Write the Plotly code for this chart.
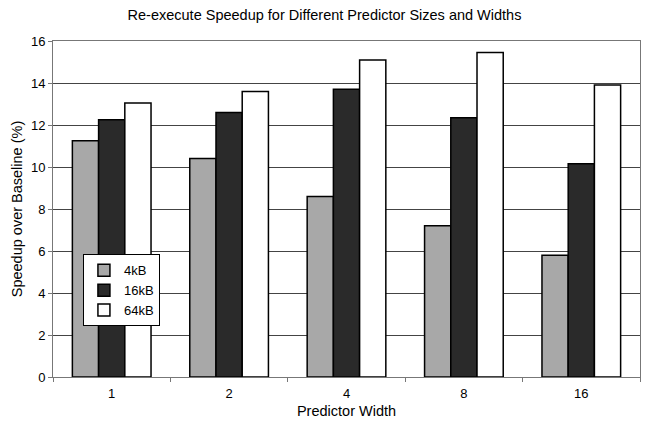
import plotly.graph_objects as go

categories = ["1", "2", "4", "8", "16"]
series_names = ["4kB", "16kB", "64kB"]
vals_4kb = [11.25, 10.4, 8.6, 7.2, 5.8]
vals_16kb = [12.25, 12.6, 13.7, 12.35, 10.15]
vals_64kb = [13.05, 13.6, 15.1, 15.45, 13.9]
y_ticks = [0, 2, 4, 6, 8, 10, 12, 14, 16]

colors = ["#a8a8a8", "#2a2a2a", "#ffffff"]
series = [vals_4kb, vals_16kb, vals_64kb]

fig = go.Figure()
for name, vals, col in zip(series_names, series, colors):
    fig.add_trace(go.Bar(
        x=categories, y=vals, name=name,
        marker=dict(color=col, line=dict(color="#000000", width=1.5)),
    ))

font = "Liberation Sans, Arial, sans-serif"
fig.update_layout(
    width=649, height=422,
    margin=dict(l=53, r=9, t=41, b=45),
    paper_bgcolor="white", plot_bgcolor="white",
    barmode="group", bargap=0.33, bargroupgap=0,
    font=dict(family=font, size=13, color="#000"),
    title=dict(text="Re-execute Speedup for Different Predictor Sizes and Widths",
               x=0.5, xanchor="center", y=0.964, yanchor="middle",
               font=dict(size=14.5)),
    xaxis=dict(type="category", automargin=False,
               title=dict(text="Predictor Width", standoff=6, font=dict(size=14.5)),
               showline=True, linecolor="#777", linewidth=1, mirror=True,
               ticks="outside", tickson="boundaries", ticklen=4, tickcolor="#777",
               ticklabelstandoff=4, showgrid=False),
    yaxis=dict(range=[0, 16], tickvals=y_ticks, automargin=False,
               title=dict(text="Speedup over Baseline (%)", standoff=4, font=dict(size=14.5)),
               showline=True, linecolor="#777", linewidth=1, mirror=True,
               ticks="outside", ticklen=4, tickcolor="#777",
               showgrid=True, gridcolor="#444", gridwidth=1, zeroline=False),
    legend=dict(x=0.051, y=0.365, xanchor="left", yanchor="top",
                bgcolor="white", bordercolor="#000", borderwidth=1,
                font=dict(size=13), tracegroupgap=0, itemwidth=30),
    showlegend=True,
)

fig.write_html("out.html")
